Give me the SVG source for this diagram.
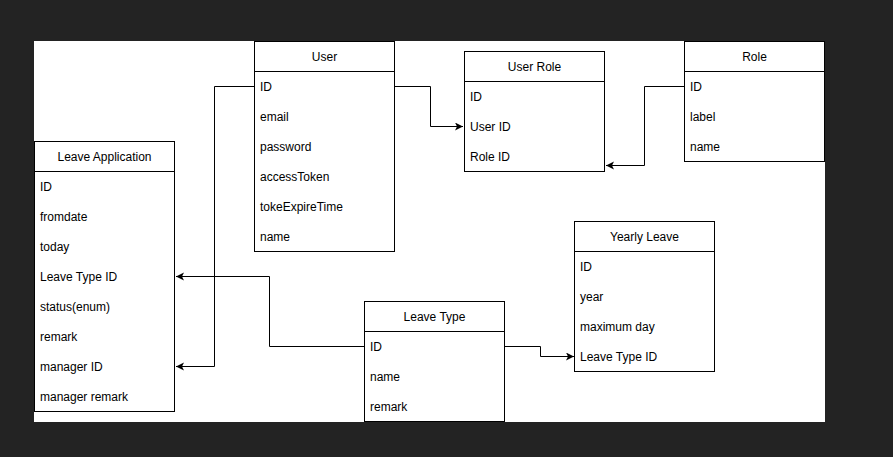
<svg xmlns="http://www.w3.org/2000/svg" width="893" height="457" viewBox="0 0 893 457">
<style>
.box{fill:#fff;stroke:#000;stroke-width:1}
.t{font-family:"Liberation Sans",Arial,sans-serif;font-size:12px;fill:#000}
.h{text-anchor:middle}
.c{fill:none;stroke:#000;stroke-width:1}
</style>
<defs>
<marker id="arr" markerUnits="userSpaceOnUse" markerWidth="10" markerHeight="10" refX="8" refY="4" orient="auto">
<path d="M0,0 L8,4 L0,8 L2,4 Z" fill="#000"/>
</marker>
</defs>
<rect x="0" y="0" width="893" height="457" fill="#232323"/>
<rect x="34" y="41" width="791" height="381" fill="#fff"/>

<g id="connectors">
<path class="c" d="M394.5,86.5 H430.5 V126.5 H463" marker-end="url(#arr)"/>
<path class="c" d="M684.5,86.5 H644.5 V165.5 H606" marker-end="url(#arr)"/>
<path class="c" d="M254.5,86.5 H214.5 V366.5 H176" marker-end="url(#arr)"/>
<path class="c" d="M364.5,346.5 H269.5 V276.5 H176" marker-end="url(#arr)"/>
<path class="c" d="M504.5,346.5 H540.5 V356.5 H574" marker-end="url(#arr)"/>
</g>

<g id="user">
<rect class="box" x="254.5" y="41.5" width="140" height="210"/>
<line class="c" x1="254.5" y1="71.5" x2="394.5" y2="71.5"/>
<text class="t h" x="324.5" y="61">User</text>
<text class="t" x="260" y="91">ID</text>
<text class="t" x="260" y="121">email</text>
<text class="t" x="260" y="151">password</text>
<text class="t" x="260" y="181">accessToken</text>
<text class="t" x="260" y="211">tokeExpireTime</text>
<text class="t" x="260" y="241">name</text>
</g>

<g id="user-role">
<rect class="box" x="464.5" y="51.5" width="140" height="120"/>
<line class="c" x1="464.5" y1="81.5" x2="604.5" y2="81.5"/>
<text class="t h" x="534.5" y="71">User Role</text>
<text class="t" x="470" y="101">ID</text>
<text class="t" x="470" y="131">User ID</text>
<text class="t" x="470" y="161">Role ID</text>
</g>

<g id="role">
<rect class="box" x="684.5" y="41.5" width="140" height="120"/>
<line class="c" x1="684.5" y1="71.5" x2="824.5" y2="71.5"/>
<text class="t h" x="754.5" y="61">Role</text>
<text class="t" x="690" y="91">ID</text>
<text class="t" x="690" y="121">label</text>
<text class="t" x="690" y="151">name</text>
</g>

<g id="leave-application">
<rect class="box" x="34.5" y="141.5" width="140" height="270"/>
<line class="c" x1="34.5" y1="171.5" x2="174.5" y2="171.5"/>
<text class="t h" x="104.5" y="161">Leave Application</text>
<text class="t" x="40" y="191">ID</text>
<text class="t" x="40" y="221">fromdate</text>
<text class="t" x="40" y="251">today</text>
<text class="t" x="40" y="281">Leave Type ID</text>
<text class="t" x="40" y="311">status(enum)</text>
<text class="t" x="40" y="341">remark</text>
<text class="t" x="40" y="371">manager ID</text>
<text class="t" x="40" y="401">manager remark</text>
</g>

<g id="yearly-leave">
<rect class="box" x="574.5" y="221.5" width="140" height="150"/>
<line class="c" x1="574.5" y1="251.5" x2="714.5" y2="251.5"/>
<text class="t h" x="644.5" y="241">Yearly Leave</text>
<text class="t" x="580" y="271">ID</text>
<text class="t" x="580" y="301">year</text>
<text class="t" x="580" y="331">maximum day</text>
<text class="t" x="580" y="361">Leave Type ID</text>
</g>

<g id="leave-type">
<rect class="box" x="364.5" y="301.5" width="140" height="120"/>
<line class="c" x1="364.5" y1="331.5" x2="504.5" y2="331.5"/>
<text class="t h" x="434.5" y="321">Leave Type</text>
<text class="t" x="370" y="351">ID</text>
<text class="t" x="370" y="381">name</text>
<text class="t" x="370" y="411">remark</text>
</g>
</svg>
